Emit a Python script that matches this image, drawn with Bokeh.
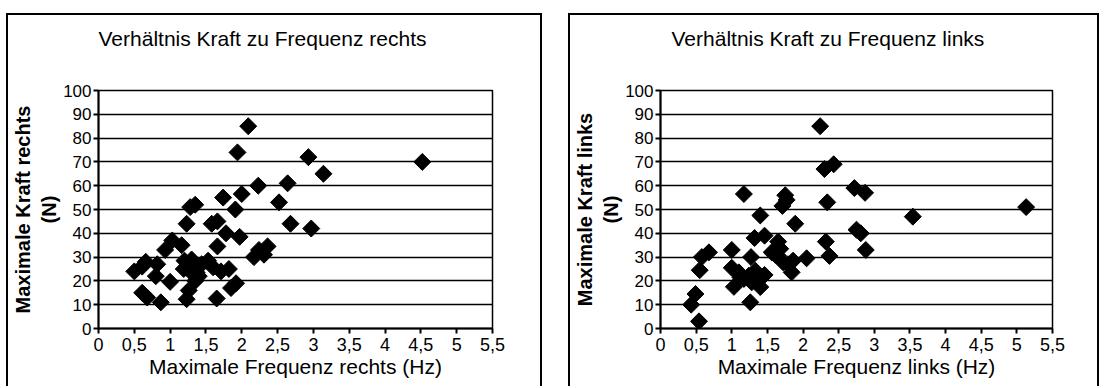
import math
from bokeh.plotting import figure
from bokeh.layouts import row
from bokeh.models import FixedTicker, ColumnDataSource, Title
from bokeh.embed import file_html
from bokeh.resources import INLINE

# ---- data ----
x_ticks = [0, 0.5, 1, 1.5, 2, 2.5, 3, 3.5, 4, 4.5, 5, 5.5]
x_tick_labels = ["0", "0,5", "1", "1,5", "2", "2,5", "3", "3,5", "4", "4,5", "5", "5,5"]
y_ticks = [0, 10, 20, 30, 40, 50, 60, 70, 80, 90, 100]

freq_rechts = [4.52, 2.09, 1.94, 2.93, 3.14, 2.64, 2.23, 2.00, 1.74, 2.52, 1.35, 1.28, 1.91,
               1.23, 1.58, 1.66, 2.68, 2.97, 1.78, 1.97, 1.03, 1.16, 1.66, 0.93, 2.36, 2.24,
               2.31, 2.17, 0.50, 0.61, 0.66, 0.82, 0.80, 1.00, 0.61, 0.68, 0.87, 1.20, 1.19,
               1.32, 1.37, 1.35, 1.26, 1.44, 1.26, 1.23, 1.65, 1.53, 1.60, 1.71, 1.82, 1.85,
               1.92, 1.30, 1.28, 1.40]
kraft_rechts = [70, 85, 74, 72, 65, 61, 60, 56.5, 55, 53, 52, 51, 50,
                44, 44, 45, 44, 42, 40, 38.5, 37, 35, 34.5, 33, 34.5, 33,
                31, 30, 24, 26, 28, 27, 22, 19.6, 15, 13, 11, 28.5, 25,
                27, 23.5, 20, 27, 27, 16, 12.3, 12.6, 28.5, 25.7, 24, 25, 17,
                19, 29, 24, 22]

freq_links = [5.13, 3.54, 2.24, 2.43, 2.30, 2.72, 2.87, 2.34, 2.75, 2.81, 2.88, 2.32, 2.37,
              2.05, 1.17, 1.75, 1.77, 1.71, 1.40, 1.89, 1.46, 1.32, 1.65, 1.68, 1.61, 1.00,
              0.68, 0.58, 0.55, 0.49, 0.43, 0.54, 1.27, 1.26, 1.03, 1.00, 1.10, 1.17, 1.24,
              1.33, 1.38, 1.46, 1.40, 1.12, 1.28, 1.79, 1.84, 1.86, 1.72, 1.65, 1.56]
kraft_links = [51, 47, 85, 69, 67, 59, 57, 53, 41.5, 40, 33, 36.5, 30.5,
               29.5, 56.5, 56, 54, 51.5, 47.5, 44, 39, 38, 36.5, 33.5, 31, 33,
               32, 30, 24.5, 14.5, 10, 3, 30, 11, 17.5, 25.5, 23.6, 20.8, 22.2,
               24.3, 20.8, 22.5, 17.4, 21.5, 19.4, 27, 23.6, 28.5, 27.8, 30.5, 32]

FONT = "Liberation Sans"


def make_chart(title, xlabel, ylabel, xs, ys, width, mb_left, mb_right, mb_bottom,
               title_dx, margin):
    p = figure(width=width, height=373, x_range=(0, 5.5), y_range=(0, 100),
               title=None, output_backend="svg", toolbar_location=None,
               min_border_left=mb_left, min_border_right=mb_right,
               min_border_top=75, min_border_bottom=mb_bottom)
    p.margin = margin
    p.styles = {"border-top": "2px solid black", "border-left": "2px solid black",
                "border-right": "2px solid black"}
    p.background_fill_color = "white"
    p.border_fill_color = "white"
    p.outline_line_color = "black"
    p.outline_line_width = 1.5

    # spacer (closest to the frame), then the real title above it
    p.add_layout(Title(text=" ", text_font_size="1px", standoff=38), "above")
    p.add_layout(Title(text=title, text_font=FONT, text_font_size="21px",
                       text_font_style="normal", text_color="black",
                       align="left", offset=title_dx, standoff=0), "above")

    p.xgrid.visible = False
    p.ygrid.grid_line_color = "black"
    p.ygrid.grid_line_width = 1.5
    p.ygrid.ticker = FixedTicker(ticks=y_ticks)

    p.xaxis.ticker = FixedTicker(ticks=x_ticks)
    p.xaxis.major_label_overrides = dict(zip(x_ticks, x_tick_labels))
    p.yaxis.ticker = FixedTicker(ticks=y_ticks)
    for ax in (p.xaxis, p.yaxis):
        ax.axis_line_color = "black"
        ax.axis_line_width = 2
        ax.major_tick_line_color = "black"
        ax.major_tick_line_width = 2
        ax.major_tick_in = 0
        ax.major_tick_out = 5
        ax.minor_tick_line_color = None
        ax.major_label_text_font = FONT
        ax.major_label_text_color = "black"
        ax.axis_label_text_font = FONT
        ax.axis_label_text_color = "black"
    p.xaxis.major_label_text_font_size = "18px"
    p.yaxis.major_label_text_font_size = "17px"
    p.xaxis.axis_label = xlabel
    p.xaxis.axis_label_text_font_size = "21px"
    p.xaxis.axis_label_text_font_style = "normal"
    p.xaxis.major_label_standoff = 4
    p.xaxis.axis_label_standoff = 1
    p.yaxis.axis_label = ylabel
    p.yaxis.axis_label_text_font_size = "20px"
    p.yaxis.axis_label_text_font_style = "bold"
    p.yaxis.major_label_standoff = 2
    p.yaxis.axis_label_standoff = 0

    src = ColumnDataSource(dict(x=xs, y=ys))
    p.scatter("x", "y", source=src, marker="square", size=12, angle=math.pi / 4,
              fill_color="black", line_color="black")
    return p


p1 = make_chart("Verhältnis Kraft zu Frequenz rechts", "Maximale Frequenz rechts (Hz)",
                "Maximale Kraft rechts\n(N)", freq_rechts, kraft_rechts,
                536, 86, 52, 60, 0, (13, 0, 0, 6))
p2 = make_chart("Verhältnis Kraft zu Frequenz links", "Maximale Frequenz links (Hz)",
                "Maximale Kraft links\n(N)", freq_links, kraft_links,
                531, 86, 49, 58, 11, (13, 0, 0, 26))

layout = row(p1, p2)
layout.styles = {"background-color": "white"}
open("out.html", "w").write(file_html(layout, INLINE))
